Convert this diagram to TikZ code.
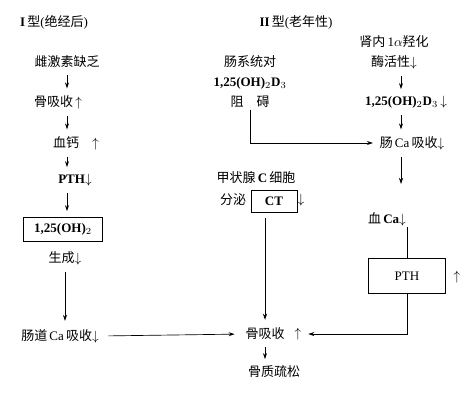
\documentclass[tikz,border=0pt]{standalone}
\usepackage{fontspec}
\setmainfont{Liberation Serif}
\newfontfamily\cjk{Noto Sans CJK SC}
\usetikzlibrary{arrows.meta}
\newcommand{\zh}[1]{{\cjk #1}}

\begin{document}
\begin{tikzpicture}[x=0.75pt,y=0.75pt,yscale=-1,xscale=1,
	every node/.style={font=\fontsize{9.75}{15}\selectfont, inner sep=1pt},
	box/.style={draw, line width=0.7pt},
	arr/.style={-{Stealth[length=4.5pt,width=3pt]}, line width=0.5pt},
	shortarr/.style={arr, shorten <=4pt, shorten >=4pt}]
		\useasboundingbox (0,0) rectangle (473,401);
		% columns of the short arrows
		\coordinate (colL) at (67,0);
		\coordinate (colR) at (401,0);
		\coordinate (gapR) at (401,184);
		
		% Type I (left column)
		\node (typeI) at (54,22) {\textbf{I}\,\zh{型}(\zh{绝经后})};
		\node (estro) at (67,62) {\zh{雌激素缺乏}};
		\node (boneL) at (58,102) {\zh{骨吸收}\,$\uparrow$};
		\node (caL) at (76,143) {\zh{血钙}\quad$\uparrow$};
		\node (pthL) at (75,180) {\textbf{PTH}$\downarrow$};
		\node [box, minimum width=59pt, minimum height=18pt] (vitdL) at (63,229) {\textbf{1,25(OH)$_2$}};
		\node (genL) at (65,258) {\zh{生成}$\downarrow$};
		\node (gutL) at (60,336) {\zh{肠道}\,Ca\,\zh{吸收}$\downarrow$};
		
		% Type II (middle column)
		\node (typeII) at (296,22) {\textbf{II}\,\zh{型}(\zh{老年性})};
		\node [align=center] (resist) at (250,82) {\zh{肠系统对}\\\textbf{1,25(OH)$_2$D$_3$}\\\zh{阻\quad 碍}};
		\node (thyroid) at (256,178) {\zh{甲状腺}\,\textbf{C}\,\zh{细胞}};
		\node (secrete) at (233,200) {\zh{分泌}};
		\node [box, minimum width=34.5pt, minimum height=16.5pt] (ct) at (274,201) {\textbf{CT}};
		\node (ctdown) at (301,200) {$\downarrow$};
		\node (bone) at (265,334) {\zh{骨吸收}};
		\node (boneup) at (298,334) {$\uparrow$};
		\node (osteo) at (274,372) {\zh{骨质疏松}};
		
		% right column
		\node [align=center] (kidney) at (394,52) {\zh{肾内}\,1$\alpha$\zh{羟化}\\\zh{酶活性}$\downarrow$};
		\node (vitdR) at (406,102) {\textbf{1,25(OH)$_2$D$_3$}$\,\downarrow$};
		\node (gutR) at (412,143) {\zh{肠}\,Ca\,\zh{吸收}$\downarrow$};
		\node (blood) at (387,219) {\zh{血}\,\textbf{Ca}$\downarrow$};
		\node [box, minimum width=57.75pt, minimum height=26.25pt] (pthR) at (407,276) {PTH};
		\node (pthup) at (457,277) {$\uparrow$};
		
		% left arrows
		\draw [shortarr] (estro.south -| colL) -- (boneL.north -| colL);
		\draw [shortarr] (boneL.south -| colL) -- (caL.north -| colL);
		\draw [shortarr] (caL.south -| colL) -- (pthL.north -| colL);
		\draw [shortarr] (pthL.south -| colL) -- (vitdL.north -| colL);
		\draw [arr, shorten <=4pt, shorten >=5pt] (genL.south) -- (genL.south |- gutL.north);
		\draw [arr, shorten <=6pt, shorten >=7pt] (gutL.east) -- (bone.west);
		
		% middle arrows
		\draw [arr, shorten >=4pt] (resist.south) |- (gutR.west);
		\draw [arr, shorten <=4pt, shorten >=5pt] (ct.south -| bone.north) -- (bone.north);
		\draw [shortarr] (bone.south) -- (bone.south |- osteo.north);
		
		% right arrows
		\draw [shortarr] (kidney.south -| colR) -- (vitdR.north -| colR);
		\draw [shortarr] (vitdR.south -| colR) -- (gutR.north -| colR);
		\draw [arr, shorten <=4pt] (gutR.south -| colR) -- (gapR);
		\draw (pthR.north |- blood.south) -- (pthR.north);
		\draw [arr, shorten >=4pt] (pthR.south) |- (boneup.east);
		
		\end{tikzpicture}
\end{document}
